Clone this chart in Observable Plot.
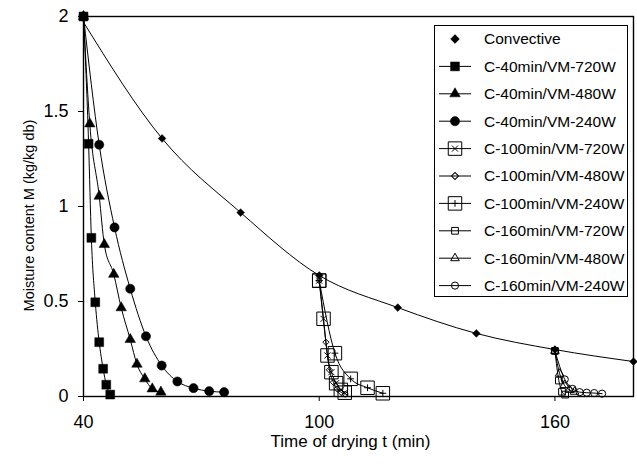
<!DOCTYPE html>
<html>
<head>
<meta charset="utf-8">
<script src="https://cdn.jsdelivr.net/npm/d3@7"></script>
<script src="https://cdn.jsdelivr.net/npm/@observablehq/plot@0.6"></script>
<style>
  html, body { margin: 0; padding: 0; background: #fff; }
  #wrap { position: relative; width: 637px; height: 467px; font-family: "Liberation Sans", Arial, sans-serif; }
  #legend { position: absolute; left: 434px; top: 25px; }
</style>
</head>
<body>
<div id="wrap"><div id="chart"></div><div id="legend"></div></div>
<script>
// ---- Data ----
const xTicks = [40, 100, 160];
const yTicks = [0, 0.5, 1, 1.5, 2];

const convCurveT = [40, 60, 80, 100, 120, 140, 160, 180];
const convCurveM = [1.97, 1.358, 0.968, 0.637, 0.468, 0.332, 0.247, 0.184];
const convT = [60, 80, 100, 120, 140, 160, 180];
const convM = [1.358, 0.968, 0.637, 0.468, 0.332, 0.247, 0.184];

const c40_720T = [40, 41.3, 42, 43, 44, 45, 45.8, 46.8];
const c40_720M = [2, 1.33, 0.835, 0.496, 0.286, 0.146, 0.062, 0.01];

const c40_480T = [40, 41.6, 44, 45.3, 47.7, 49.6, 51.9, 53.6, 55.6, 57.5, 59.7];
const c40_480M = [2, 1.435, 1.054, 0.80, 0.643, 0.467, 0.30, 0.17, 0.093, 0.04, 0.023];

const c40_240T = [40, 44, 47.9, 51.9, 55.9, 59.9, 63.9, 68, 72, 75.8];
const c40_240M = [2, 1.325, 0.89, 0.567, 0.317, 0.163, 0.079, 0.044, 0.028, 0.023];

const c100_720T = [100, 101.1, 102.1, 103.1, 104.3, 105.5, 106.5];
const c100_720M = [0.61, 0.409, 0.216, 0.128, 0.07, 0.035, 0.02];

const c100_480T = [100, 101.7, 102.6, 103.6, 104.6, 105.6, 106.6];
const c100_480M = [0.61, 0.286, 0.14, 0.075, 0.04, 0.022, 0.012];

const c100_240T = [100, 104, 108, 112.3, 116.2];
const c100_240M = [0.61, 0.228, 0.093, 0.046, 0.017];

const c160_720T = [160, 161, 161.8, 162.6];
const c160_720M = [0.24, 0.084, 0.025, 0.01];

const c160_480T = [160, 161.2, 162.4, 163.7, 165];
const c160_480M = [0.24, 0.12, 0.06, 0.035, 0.025];

const c160_240T = [160, 162.5, 164.5, 166.3, 168.1, 170, 172];
const c160_240M = [0.24, 0.09, 0.04, 0.023, 0.02, 0.018, 0.015];

const legendNames = [
  "Convective", "C-40min/VM-720W", "C-40min/VM-480W", "C-40min/VM-240W",
  "C-100min/VM-720W", "C-100min/VM-480W", "C-100min/VM-240W",
  "C-160min/VM-720W", "C-160min/VM-480W", "C-160min/VM-240W"
];

// ---- custom symbols ----
const boxX = { draw(ctx, size) {
  const r = Math.sqrt(size) / 2;
  ctx.moveTo(-r, -r); ctx.lineTo(r, -r); ctx.lineTo(r, r); ctx.lineTo(-r, r); ctx.closePath();
  const s = r * 0.45;
  ctx.moveTo(-s, -s); ctx.lineTo(s, s); ctx.moveTo(s, -s); ctx.lineTo(-s, s);
}};
const boxPlus = { draw(ctx, size) {
  const r = Math.sqrt(size) / 2;
  ctx.moveTo(-r, -r); ctx.lineTo(r, -r); ctx.lineTo(r, r); ctx.lineTo(-r, r); ctx.closePath();
  const s = r * 0.5;
  ctx.moveTo(-s, 0); ctx.lineTo(s, 0); ctx.moveTo(0, -s); ctx.lineTo(0, s);
}};

const styles = [
  {symbol: "diamond2", r: 3.5, fill: "#000"},
  {symbol: "square", r: 5.0, fill: "#000"},
  {symbol: "triangle", r: 3.9, fill: "#000"},
  {symbol: "circle", r: 4.6, fill: "#000"},
  {symbol: boxX, r: 7.6, fill: "none"},
  {symbol: "diamond2", r: 2.8, fill: "none"},
  {symbol: boxPlus, r: 7.6, fill: "none"},
  {symbol: "square", r: 3.8, fill: "none"},
  {symbol: "triangle", r: 3.2, fill: "none"},
  {symbol: "circle", r: 3.6, fill: "none"}
];

const seriesData = [
  [convT, convM],
  [c40_720T, c40_720M], [c40_480T, c40_480M], [c40_240T, c40_240M],
  [c100_720T, c100_720M], [c100_480T, c100_480M], [c100_240T, c100_240M],
  [c160_720T, c160_720M], [c160_480T, c160_480M], [c160_240T, c160_240M]
];

const toRows = (T, M) => T.map((t, i) => ({t, m: M[i]}));

const marks = [];
marks.push(Plot.line(toRows(convCurveT, convCurveM), {x: "t", y: "m", curve: "monotone-x", stroke: "#000", strokeWidth: 1}));
seriesData.forEach(([T, M], i) => {
  if (i > 0) marks.push(Plot.line(toRows(T, M), {x: "t", y: "m", curve: "monotone-x", stroke: "#000", strokeWidth: 1}));
});
// draw dots; the C-40min/VM-720W squares last so they sit on top at (40, 2)
const dotOrder = [0, 2, 3, 4, 5, 6, 7, 8, 9, 1];
dotOrder.forEach(i => {
  const [T, M] = seriesData[i];
  const st = styles[i];
  marks.push(Plot.dot(toRows(T, M), {x: "t", y: "m", symbol: st.symbol, r: st.r,
    fill: st.fill, stroke: "#000", strokeWidth: st.fill === "none" ? 1 : 0.5}));
});
marks.push(Plot.frame({stroke: "#000", strokeWidth: 1.4}));
marks.push(Plot.axisX({ticks: xTicks, tickSize: 5, tickPadding: 14, fontSize: 18, label: null, tickFormat: d => String(d)}));
marks.push(Plot.axisY({ticks: yTicks, tickSize: 5, tickPadding: 10, fontSize: 18, label: null, tickFormat: d => String(d)}));
marks.push(Plot.text(["Time of drying t (min)"], {frameAnchor: "bottom", lineAnchor: "middle", textAnchor: "middle", dx: -8, dy: 45, fontSize: 17, fill: "#000"}));
marks.push(Plot.text(["Moisture content M (kg/kg db)"], {frameAnchor: "left", textAnchor: "middle", lineAnchor: "middle", dx: -54, dy: 9, rotate: -90, fontSize: 14.5, fill: "#000"}));

const chart = Plot.plot({
  width: 637,
  height: 467,
  marginLeft: 83,
  marginRight: 4,
  marginTop: 16,
  marginBottom: 71,
  style: {fontFamily: "'Liberation Sans', Arial, sans-serif", color: "#000", background: "#fff"},
  x: {domain: [40, 180]},
  y: {domain: [0, 2]},
  marks
});
document.getElementById("chart").appendChild(chart);

// ---- Legend ----
const lw = 194, rowH = 27.4, lh = 272;
const lsvg = d3.select("#legend").append("svg").attr("width", lw).attr("height", lh)
  .style("font-family", "'Liberation Sans', Arial, sans-serif");
lsvg.append("rect").attr("x", 0.5).attr("y", 0.5).attr("width", lw - 1).attr("height", lh - 1)
  .attr("fill", "#fff").attr("stroke", "#000").attr("stroke-width", 1);
const symMap = {square: d3.symbolSquare, triangle: d3.symbolTriangle, circle: d3.symbolCircle, diamond2: d3.symbolSquare};
legendNames.forEach((name, i) => {
  const st = styles[i];
  const cy = 14 + i * rowH;
  const g = lsvg.append("g").attr("transform", `translate(0,${cy})`);
  if (i > 0) g.append("line").attr("x1", 5).attr("x2", 37).attr("y1", 0).attr("y2", 0).attr("stroke", "#000").attr("stroke-width", 1);
  const symType = typeof st.symbol === "string" ? symMap[st.symbol] : st.symbol;
  g.append("path").attr("d", d3.symbol(symType, st.r * st.r * Math.PI)())
    .attr("transform", `translate(21,0)${st.symbol === "diamond2" ? " rotate(45)" : ""}`)
    .attr("fill", st.fill).attr("stroke", "#000").attr("stroke-width", st.fill === "none" ? 1 : 0.5);
  g.append("text").attr("x", 50).attr("y", 0).attr("dy", "0.35em").attr("font-size", 15.5).attr("fill", "#000").text(name);
});
</script>
</body>
</html>
